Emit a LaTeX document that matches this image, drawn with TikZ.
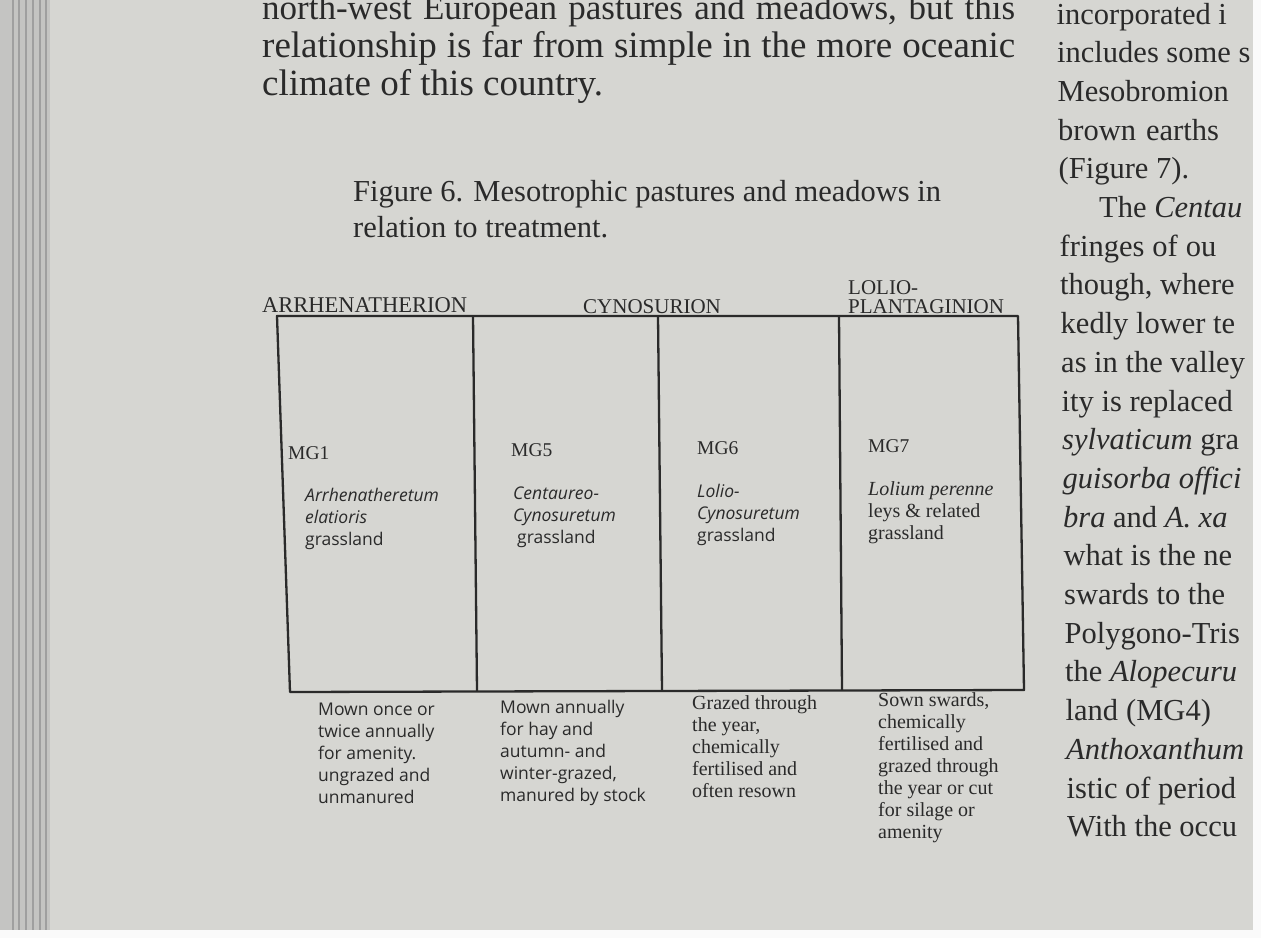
\documentclass[tikz,border=0pt]{standalone}
\usepackage{fontspec}
\setmainfont{Liberation Serif}
\newfontfamily\optima{Open Sans}
\usepackage{xcolor}
\usetikzlibrary{positioning}
\definecolor{paper}{RGB}{214,214,210}
\definecolor{gutter}{RGB}{196,196,194}
\definecolor{ink}{RGB}{42,42,42}

\begin{document}
\begin{tikzpicture}[x=1pt,y=-1pt,
	body/.style={anchor=base west,inner sep=0pt,text=ink,font=\fontsize{37}{38}\selectfont},
	rcol/.style={body,font=\fontsize{30.5}{38}\selectfont},
	capt/.style={anchor=north west,inner sep=0pt,text=ink,align=left,font=\fontsize{30.5}{36}\selectfont},
	alliance/.style={anchor=base west,inner sep=0pt,text=ink,align=left,font=\fontsize{21}{19}\selectfont},
	mgcode/.style={anchor=base west,inner sep=0pt,text=ink,font=\fontsize{19.5}{22}\selectfont},
	celltext/.style={anchor=north west,inner sep=0pt,text=ink,align=left,font=\optima\fontsize{17.5}{22}\selectfont},
	cellserif/.style={celltext,font=\fontsize{20}{22}\selectfont},
	frame/.style={draw=ink,line width=2.3pt,line join=round}]
	% page
	\fill[paper] (0,0) rectangle (1261,938);
	\useasboundingbox (0,0) rectangle (1261,938);
	\fill[gutter] (0,0) rectangle (50,938);
	\foreach \x in {13,19,26,33,40,46}
		\draw[gray!75,line width=1.4pt] (\x,0) -- (\x,938);
	\fill[white!88!paper] (1253,0) rectangle (1261,938);
	\fill[white!88!paper] (0,930) rectangle (1261,938);

	% running text, left column
	\node[body,font=\fontsize{35}{38}\selectfont] (l1) at (262,19) {\makebox[753pt][s]{north-west European pastures and meadows, but this}};
	\node[body] (l2) at (262,57) {\makebox[753pt][s]{relationship is far from simple in the more oceanic}};
	\node[body] (l3) at (262,95) {climate of this country.};

	% running text, right column (cut by the page edge)
	\begin{scope}
		\clip (1040,0) rectangle (1253,930);
		\foreach \txt [count=\i] in {incorporated i, includes some s, Mesobromion, brown\hspace{10pt}earths, (Figure 7).,
			\hspace{40pt}The \textit{Centau}, fringes\hspace{8pt}of\hspace{8pt}ou, {though, where}, kedly lower te, as in the valley,
			ity is replaced, \textit{sylvaticum} gra, \textit{guisorba offici}, \textit{bra} and \textit{A. xa},
			what is the ne, swards to the, Polygono-Tris, the \textit{Alopecuru}, land\hspace{8pt}(MG4),
			\textit{Anthoxanthum}, istic of period, With the occu}
			\node[rcol] (r\i) at ({1056+0.5*\i},{24+38.7*(\i-1)}) {\txt};
	\end{scope}

	% caption
	\node[capt] (caption) at (353,180) {Figure 6. Mesotrophic pastures and meadows in\\relation to treatment.};

	% alliances
	\node[alliance,font=\fontsize{22.5}{19}\selectfont] (arrh) at (262,312) {ARRHENATHERION};
	\node[alliance] (cyno) at (583,313) {CYNOSURION};
	\node[alliance,anchor=north west] (lolio) at (848,280) {LOLIO-\\PLANTAGINION};

	% table
	\coordinate (tl) at (277,316);
	\coordinate (tr) at (1018,316);
	\coordinate (br) at (1024,690);
	\coordinate (bl) at (290,692);
	\draw[frame] (tl) -- (tr) -- (br) -- (bl) -- cycle;
	\draw[frame] (473,316) -- (477,691);
	\draw[frame] (658,316) -- (662,691);
	\draw[frame] (839,316) -- (842,690);

	\node[mgcode] (mg1) at (288,459) {MG1};
	\node[mgcode] (mg5) at (511,456) {MG5};
	\node[mgcode] (mg6) at (697,454) {MG6};
	\node[mgcode] (mg7) at (868,452) {MG7};

	\node[celltext] (c1) at (305,488) {\textit{Arrhenatheretum}\\\textit{elatioris}\\grassland};
	\node[celltext] (c5) at (513,487) {\textit{Centaureo-}\\\textit{Cynosuretum}\\\hspace{4pt}grassland};
	\node[celltext] (c6) at (697,484) {\textit{Lolio-}\\\textit{Cynosuretum}\\grassland};
	\node[cellserif] (c7) at (868,481) {\textit{Lolium perenne}\\leys \& related\\grassland};

	% treatments
	\node[celltext] (t1) at (318,703) {Mown once or\\twice annually\\for amenity.\\ungrazed and\\unmanured};
	\node[celltext] (t5) at (500,700) {Mown annually\\for hay and\\autumn- and\\winter-grazed,\\manured by stock};
	\node[cellserif] (t6) at (692,695) {Grazed through\\the year,\\chemically\\fertilised and\\often resown};
	\node[cellserif] (t7) at (878,692) {Sown swards,\\chemically\\fertilised and\\grazed through\\the year or cut\\for silage or\\amenity};
\end{tikzpicture}
\end{document}
